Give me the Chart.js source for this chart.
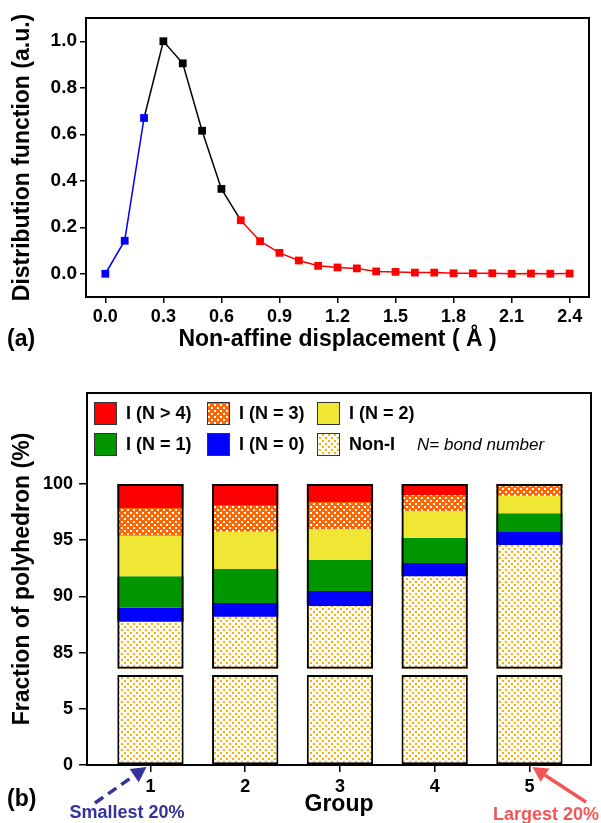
<!DOCTYPE html>
<html>
<head>
<meta charset="utf-8">
<script src="https://cdn.jsdelivr.net/npm/chart.js@4.4.0/dist/chart.umd.min.js"></script>
<style>
  html, body { margin: 0; padding: 0; background: #fff; }
  #wrap { position: relative; width: 601px; height: 823px; }
  .box { position: absolute; left: 0; width: 601px; }
  #boxA { top: 0; height: 370px; }
  #boxB { top: 370px; height: 453px; }
</style>
</head>
<body>
<div id="wrap">
  <div class="box" id="boxA"><canvas id="chartA"></canvas></div>
  <div class="box" id="boxB"><canvas id="chartB"></canvas></div>
</div>
<script>
// ---- (a) distribution of non-affine displacement ----
const displacement = [0.0, 0.1, 0.2, 0.3, 0.4, 0.5, 0.6, 0.7, 0.8, 0.9, 1.0, 1.1, 1.2,
                      1.3, 1.4, 1.5, 1.6, 1.7, 1.8, 1.9, 2.0, 2.1, 2.2, 2.3, 2.4];
const distribution = [0.0, 0.142, 0.67, 1.0, 0.905, 0.615, 0.365, 0.23, 0.14, 0.09, 0.057, 0.034, 0.027,
                      0.023, 0.01, 0.008, 0.005, 0.005, 0.002, 0.002, 0.002, 0.0, 0.001, 0.0, 0.001];
const ticksDisplacement = [0.0, 0.3, 0.6, 0.9, 1.2, 1.5, 1.8, 2.1, 2.4];
const ticksDistribution = [0.0, 0.2, 0.4, 0.6, 0.8, 1.0];

// ---- (b) fraction of polyhedron per group ----
const groups = [1, 2, 3, 4, 5];
const nonI = [87.75, 88.2, 89.15, 91.8, 94.57];
const bondN0 = [1.25, 1.21, 1.33, 1.17, 1.23];
const bondN1 = [2.8, 3.03, 2.76, 2.23, 1.6];
const bondN2 = [3.6, 3.32, 2.76, 2.4, 1.56];
const bondN3 = [2.46, 2.31, 2.4, 1.42, 0.89];
const bondN4 = [2.14, 1.93, 1.6, 0.98, 0.15];
const ticksFraction = [0, 5, 85, 90, 95, 100];

// broken axis: 0..8 shown, then 83.6..108 shown
const lowerTop = 8.0;
const upperBottom = 83.57;
const axisTop = 108.1;
const gapShift = 75;
function toAxis(r) { return r < 40 ? r : r - gapShift; }

const FONT = "'Liberation Sans', Arial, Helvetica, sans-serif";
Chart.defaults.font.family = FONT;
Chart.defaults.color = '#000';

function makePattern(bg, dot, halo) {
  const c = document.createElement('canvas');
  c.width = 6; c.height = 6;
  const g = c.getContext('2d');
  g.fillStyle = bg; g.fillRect(0, 0, 6, 6);
  [[1, 1], [4, 4]].forEach(p => {
    if (halo) { g.fillStyle = halo; g.fillRect(p[0] - 1, p[1] - 1, 3, 3); }
    g.fillStyle = dot; g.fillRect(p[0], p[1], 2, 2);
  });
  return g.createPattern(c, 'repeat');
}
const nonIFill = makePattern('#ffffff', '#f8b00c', '#fff8e6');
const n3Fill = makePattern('#ff6600', '#ffffff', null);

const framePlugin = {
  id: 'frame',
  afterDraw(chart) {
    const a = chart.chartArea, ctx = chart.ctx;
    ctx.save();
    ctx.strokeStyle = '#000';
    ctx.lineWidth = 2;
    ctx.strokeRect(a.left, a.top, a.right - a.left, a.bottom - a.top);
    ctx.restore();
  }
};

function axisBase(title, pad) {
  return {
    type: 'linear',
    offset: false,
    border: { display: true, color: '#000', width: 2 },
    grid: { offset: false, drawOnChartArea: false, drawTicks: true, tickLength: 6, tickColor: '#000', lineWidth: 1.5 },
    ticks: { font: { size: 18, weight: 'bold' }, color: '#000', padding: 3 },
    title: { display: true, text: title, font: { size: 23, weight: 'bold' }, color: '#000', padding: pad }
  };
}

// ---------- chart A ----------
function segColor(i) { return i < 2 ? '#0000ff' : (i < 7 ? '#000000' : '#ff0000'); }
function pointColor(i) { return i < 3 ? '#0000ff' : (i < 7 ? '#000000' : '#ff0000'); }

const xA = axisBase('Non-affine displacement ( \u00C5 )', { top: 0, bottom: 17 });
xA.min = -0.1; xA.max = 2.5;
xA.afterBuildTicks = s => { s.ticks = ticksDisplacement.map(v => ({ value: v })); };
xA.afterFit = s => { s.height = 73; };
xA.ticks.callback = v => v.toFixed(1);

const yA = axisBase('Distribution function (a.u.)', { top: 9, bottom: 0 });
yA.min = -0.1; yA.max = 1.1;
yA.afterBuildTicks = s => { s.ticks = ticksDistribution.map(v => ({ value: v })); };
yA.afterFit = s => { s.width = 86; };
yA.ticks.callback = v => v.toFixed(1);
yA.ticks.font = { size: 19, weight: 'bold' };

new Chart(document.getElementById('chartA'), {
  type: 'line',
  data: {
    datasets: [{
      data: displacement.map((x, i) => ({ x: x, y: distribution[i] })),
      borderWidth: 1.5,
      segment: { borderColor: c => segColor(c.p0DataIndex) },
      pointStyle: 'rect',
      pointRadius: 5.5,
      pointBorderWidth: 0,
      pointBackgroundColor: displacement.map((x, i) => pointColor(i)),
      pointBorderColor: displacement.map((x, i) => pointColor(i))
    }]
  },
  options: {
    responsive: true,
    maintainAspectRatio: false,
    animation: false,
    layout: { padding: { top: 18, right: 12, left: 0, bottom: 0 } },
    plugins: { legend: { display: false }, tooltip: { enabled: false } },
    scales: { x: xA, y: yA }
  },
  plugins: [framePlugin, {
    id: 'panelLabelA',
    afterDraw(chart) {
      const ctx = chart.ctx;
      ctx.save();
      ctx.font = 'bold 23px ' + FONT;
      ctx.fillStyle = '#000';
      ctx.textBaseline = 'middle';
      ctx.fillText('(a)', 7, 340);
      ctx.restore();
    }
  }]
});

// ---------- chart B ----------
const c0 = nonI;
const c1 = c0.map((v, i) => v + bondN0[i]);
const c2 = c1.map((v, i) => v + bondN1[i]);
const c3 = c2.map((v, i) => v + bondN2[i]);
const c4 = c3.map((v, i) => v + bondN3[i]);
const c5 = c4.map((v, i) => v + bondN4[i]);

function piece(bottoms, tops) {
  return groups.map((g, i) => ({ x: g, y: [toAxis(bottoms[i]), toAxis(tops[i])] }));
}
function flat(v) { return groups.map(() => v); }

const barCommon = { grouped: false, borderWidth: 0, barPercentage: 0.7, categoryPercentage: 1.0 };
const datasetsB = [
  Object.assign({ label: 'outline', data: piece(flat(upperBottom), c5),
    backgroundColor: 'rgba(0,0,0,0)', borderColor: '#000' }, barCommon, { borderWidth: 2, borderSkipped: false }),
  Object.assign({ label: 'I (N > 4)', data: piece(c4, c5), backgroundColor: '#ff0000' }, barCommon),
  Object.assign({ label: 'I (N = 3)', data: piece(c3, c4), backgroundColor: n3Fill }, barCommon),
  Object.assign({ label: 'I (N = 2)', data: piece(c2, c3), backgroundColor: '#f0e634' }, barCommon),
  Object.assign({ label: 'I (N = 1)', data: piece(c1, c2), backgroundColor: '#009600' }, barCommon),
  Object.assign({ label: 'I (N = 0)', data: piece(c0, c1), backgroundColor: '#0000ff' }, barCommon),
  Object.assign({ label: 'Non-I', data: piece(flat(upperBottom), c0), backgroundColor: nonIFill }, barCommon),
  Object.assign({ label: 'Non-I low', data: piece(flat(0), flat(lowerTop)),
    backgroundColor: nonIFill, borderColor: '#000' }, barCommon, { borderWidth: 2, borderSkipped: false })
];

const legendRows = [
  ['I (N > 4)', 'I (N = 3)', 'I (N = 2)'],
  ['I (N = 1)', 'I (N = 0)', 'Non-I']
];

function drawArrow(ctx, x1, y1, x2, y2, color, dashed) {
  const ang = Math.atan2(y2 - y1, x2 - x1);
  const head = 15, wing = 8;
  const bx = x2 - head * Math.cos(ang), by = y2 - head * Math.sin(ang);
  ctx.save();
  ctx.strokeStyle = color; ctx.fillStyle = color; ctx.lineWidth = 3.5;
  ctx.setLineDash(dashed ? [10, 6] : []);
  ctx.beginPath(); ctx.moveTo(x1, y1); ctx.lineTo(bx, by); ctx.stroke();
  ctx.setLineDash([]);
  ctx.beginPath();
  ctx.moveTo(x2, y2);
  ctx.lineTo(bx + wing * Math.sin(ang), by - wing * Math.cos(ang));
  ctx.lineTo(bx - wing * Math.sin(ang), by + wing * Math.cos(ang));
  ctx.closePath(); ctx.fill();
  ctx.restore();
}

const xB = axisBase('Group', { top: 0, bottom: 5 });
xB.min = 0.33; xB.max = 5.65;
xB.afterBuildTicks = s => { s.ticks = groups.map(v => ({ value: v })); };
xB.afterFit = s => { s.height = 58; };
xB.grid.tickLength = 7;
xB.ticks.padding = 4;

const yB = axisBase('Fraction of polyhedron (%)', { top: 9, bottom: 0 });
yB.min = 0; yB.max = toAxis(axisTop);
yB.afterBuildTicks = s => { s.ticks = ticksFraction.map(v => ({ value: toAxis(v) })); };
yB.afterFit = s => { s.width = 87; };
yB.grid.tickLength = 8;
yB.ticks.padding = 6;
yB.ticks.callback = (v, i) => String(ticksFraction[i]);

new Chart(document.getElementById('chartB'), {
  type: 'bar',
  data: { datasets: datasetsB },
  options: {
    responsive: true,
    maintainAspectRatio: false,
    animation: false,
    layout: { padding: { top: 23, right: 10, left: 0, bottom: 0 } },
    plugins: { legend: { display: false }, tooltip: { enabled: false } },
    scales: { x: xB, y: yB }
  },
  plugins: [framePlugin, {
    id: 'extrasB',
    afterDraw(chart) {
      const ctx = chart.ctx, a = chart.chartArea;
      const colX = [7, 120, 230], rowY = [9, 40], sw = 23;
      ctx.save();
      ctx.textBaseline = 'middle';
      legendRows.forEach((row, r) => {
        row.forEach((label, c) => {
          const ds = chart.data.datasets.find(d => d.label === label);
          const x = a.left + colX[c], y = a.top + rowY[r];
          ctx.fillStyle = ds.backgroundColor;
          ctx.fillRect(x, y, sw, sw);
          ctx.strokeStyle = '#333'; ctx.lineWidth = 1;
          ctx.strokeRect(x + 0.5, y + 0.5, sw - 1, sw - 1);
          ctx.fillStyle = '#000';
          ctx.font = 'bold 18px ' + FONT;
          ctx.fillText(label, x + 32, y + sw / 2 + 1);
        });
      });
      ctx.font = 'italic 17px ' + FONT;
      ctx.fillText('N= bond number', a.left + 330, a.top + rowY[1] + sw / 2 + 1);

      ctx.font = 'bold 23px ' + FONT;
      ctx.fillText('(b)', 7, 430);

      const xs = chart.scales.x;
      drawArrow(ctx, 95, 433, xs.getPixelForValue(1) - 4, a.bottom + 2, '#333399', true);
      drawArrow(ctx, 586, 432, xs.getPixelForValue(5) + 3, a.bottom + 2, '#f25555', false);

      ctx.font = 'bold 18px ' + FONT;
      ctx.textAlign = 'center';
      ctx.fillStyle = '#333399';
      ctx.fillText('Smallest 20%', 127, 443);
      ctx.fillStyle = '#f25555';
      ctx.fillText('Largest 20%', 546, 445);
      ctx.restore();
    }
  }]
});
</script>
</body>
</html>
